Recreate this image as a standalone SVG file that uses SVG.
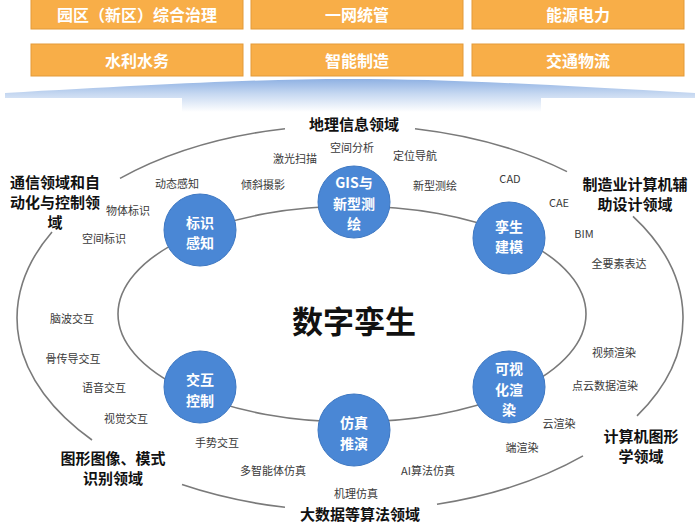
<svg xmlns="http://www.w3.org/2000/svg" width="700" height="525" viewBox="0 0 700 525">
<defs>
<linearGradient id="glow" x1="0" y1="79" x2="0" y2="112" gradientUnits="userSpaceOnUse">
<stop offset="0" stop-color="#8FB1E3"/>
<stop offset="0.45" stop-color="#C6D8F1"/>
<stop offset="1" stop-color="#FFFFFF"/>
</linearGradient>
</defs>
<style>
.box{fill:#F8AE48;stroke:#E39A38;stroke-width:1}
.boxt{font-family:"Noto Sans CJK SC","Noto Sans",sans-serif;font-size:16px;font-weight:bold;fill:#FFFFFF;text-anchor:middle;dominant-baseline:central}
.ln{fill:none;stroke:#7A7A7A;stroke-width:1.6}
.node{fill:#4A87D5;stroke:#3D77C2;stroke-width:1}
.nt{font-family:"Noto Sans CJK SC","Noto Sans",sans-serif;font-size:14px;font-weight:bold;fill:#FFFFFF;text-anchor:middle;dominant-baseline:central}
.sm{font-family:"Noto Sans CJK SC","Liberation Sans",sans-serif;font-size:11px;fill:#3A3A3A;text-anchor:middle;dominant-baseline:central}
.dom{font-family:"Noto Sans CJK SC","Noto Sans",sans-serif;font-size:15px;font-weight:bold;fill:#111111;text-anchor:middle;dominant-baseline:central}
.title{font-family:"Noto Sans CJK SC","Noto Sans",sans-serif;font-size:31px;font-weight:bold;fill:#111111;text-anchor:middle;dominant-baseline:central}
</style>
<rect width="700" height="525" fill="#FFFFFF"/>
<g id="top-boxes">
<g id="box-yuanqu"><rect class="box" x="31" y="-2" width="212" height="31"/><text class="boxt" x="137" y="14">园区（新区）综合治理</text></g>
<g id="box-yiwang"><rect class="box" x="251" y="-2" width="212" height="31"/><text class="boxt" x="357" y="14">一网统管</text></g>
<g id="box-nengyuan"><rect class="box" x="472" y="-2" width="212" height="31"/><text class="boxt" x="578" y="14">能源电力</text></g>
<g id="box-shuili"><rect class="box" x="31" y="44" width="212" height="32"/><text class="boxt" x="137" y="60">水利水务</text></g>
<g id="box-zhineng"><rect class="box" x="251" y="44" width="212" height="32"/><text class="boxt" x="357" y="60">智能制造</text></g>
<g id="box-jiaotong"><rect class="box" x="472" y="44" width="212" height="32"/><text class="boxt" x="578" y="60">交通物流</text></g>
</g>
<path d="M 5 93 C 150 85 250 79 350 79 C 450 79 550 85 695 93 L 695 98 L 541 98 L 541 112 L 182 112 L 182 98 L 5 98 Z" fill="url(#glow)"/>
<g id="connectors">
<path class="ln" d="M 120 178.4 A 333 193 0 0 1 285 128.7"/>
<path class="ln" d="M 415 128.7 A 333 193 0 0 1 567 171.6"/>
<path class="ln" d="M 633 216.3 A 333 193 0 0 1 637 415.9"/>
<path class="ln" d="M 583 455.9 A 333 193 0 0 1 437 504.3"/>
<path class="ln" d="M 285 507.3 A 333 193 0 0 1 182 484.6"/>
<path class="ln" d="M 92 440 A 333 193 0 0 1 52 231.9"/>
<ellipse class="ln" cx="352" cy="314" rx="234" ry="108"/>
</g>
<g id="node-biaoshi"><circle class="node" cx="200" cy="230" r="36"/><text class="nt" x="200" y="221.5">标识<tspan x="200" dy="20.5">感知</tspan></text></g>
<g id="node-gis"><circle class="node" cx="354" cy="202" r="36"/><text class="nt" x="354" y="182">GIS与<tspan x="354" dy="20.5">新型测</tspan><tspan x="354" dy="20.5">绘</tspan></text></g>
<g id="node-luansheng"><circle class="node" cx="509" cy="238" r="36"/><text class="nt" x="509" y="225.5">孪生<tspan x="509" dy="20.5">建模</tspan></text></g>
<g id="node-keshihua"><circle class="node" cx="509" cy="387" r="36"/><text class="nt" x="509" y="368">可视<tspan x="509" dy="20.5">化渲</tspan><tspan x="509" dy="20.5">染</tspan></text></g>
<g id="node-fangzhen"><circle class="node" cx="354" cy="430" r="36"/><text class="nt" x="354" y="422">仿真<tspan x="354" dy="20.5">推演</tspan></text></g>
<g id="node-jiaohu"><circle class="node" cx="200" cy="387" r="36"/><text class="nt" x="200" y="379">交互<tspan x="200" dy="20.5">控制</tspan></text></g>
<g id="center"><text class="title" x="354" y="319">数字孪生</text></g>
<g id="domains">
<text class="dom" x="354" y="123">地理信息领域</text>
<text class="dom" x="55" y="181">通信领域和自<tspan x="55" dy="20">动化与控制领</tspan><tspan x="55" dy="20">域</tspan></text>
<text class="dom" x="635" y="183">制造业计算机辅<tspan x="635" dy="20">助设计领域</tspan></text>
<text class="dom" x="641" y="435">计算机图形<tspan x="641" dy="20">学领域</tspan></text>
<text class="dom" x="113" y="457">图形图像、模式<tspan x="113" dy="20">识别领域</tspan></text>
<text class="dom" x="360" y="513">大数据等算法领域</text>
</g>
<g id="labels">
<text class="sm" x="352" y="147">空间分析</text>
<text class="sm" x="295" y="158">激光扫描</text>
<text class="sm" x="415" y="155">定位导航</text>
<text class="sm" x="177" y="183">动态感知</text>
<text class="sm" x="263" y="184">倾斜摄影</text>
<text class="sm" x="435" y="185">新型测绘</text>
<text class="sm" x="510" y="178">CAD</text>
<text class="sm" x="559" y="202">CAE</text>
<text class="sm" x="584" y="233">BIM</text>
<text class="sm" x="619" y="263">全要素表达</text>
<text class="sm" x="614" y="352">视频渲染</text>
<text class="sm" x="605" y="385">点云数据渲染</text>
<text class="sm" x="559" y="423">云渲染</text>
<text class="sm" x="522" y="447">端渲染</text>
<text class="sm" x="428" y="470">AI算法仿真</text>
<text class="sm" x="356" y="493">机理仿真</text>
<text class="sm" x="273" y="470">多智能体仿真</text>
<text class="sm" x="217" y="442">手势交互</text>
<text class="sm" x="126" y="418">视觉交互</text>
<text class="sm" x="104" y="387">语音交互</text>
<text class="sm" x="73" y="358">骨传导交互</text>
<text class="sm" x="72" y="318">脑波交互</text>
<text class="sm" x="104" y="238">空间标识</text>
<text class="sm" x="128" y="210">物体标识</text>
</g>
</svg>
